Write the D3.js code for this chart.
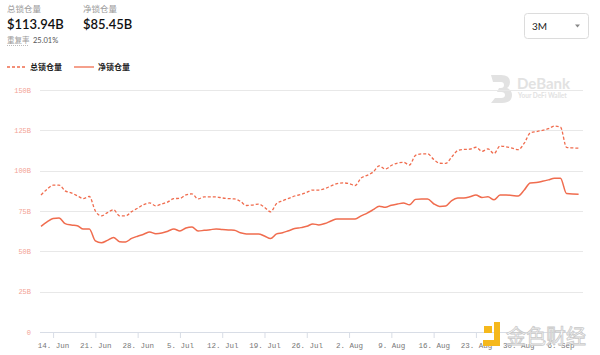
<!DOCTYPE html>
<html>
<head>
<meta charset="utf-8">
<script src="https://cdn.jsdelivr.net/npm/d3@7"></script>
<style>
  body { margin: 0; background: #fff; }
  svg { display: block; }
</style>
</head>
<body>
<svg id="chart" width="600" height="355"></svg>
<script>
// daily values, 12 Jun - 9 Sep (in B)
const startDay = "2020-06-12";
const totalLocked = [
  84.9, 88.5, 91.0, 91.1, 87.5, 86.2, 84.5, 82.7, 84.0, 75.0,
  72.0, 74.0, 75.8, 72.0, 72.0, 74.6, 76.7, 79.0, 80.0, 78.2,
  79.4, 80.6, 82.7, 82.8, 85.0, 85.6, 82.5, 83.7, 83.7, 83.7,
  83.1, 82.7, 82.5, 81.0, 78.4, 78.7, 79.3, 77.3, 74.5, 79.6,
  81.3, 82.8, 84.3, 85.2, 86.6, 88.0, 88.0, 88.9, 90.5, 92.0,
  92.4, 92.0, 90.8, 95.5, 97.1, 99.2, 103.0, 101.0, 103.2, 104.7,
  105.2, 103.5, 109.5, 110.4, 110.4, 107.0, 104.6, 104.5, 108.5, 112.5,
  113.2, 113.3, 114.5, 112.0, 113.5, 110.6, 115.3, 114.8, 114.0, 113.0,
  117.0, 123.4, 124.2, 125.0, 126.0, 127.7, 127.0, 114.5, 114.1, 113.94
];
const netLocked = [
  65.5, 68.2, 70.3, 70.6, 67.2, 66.3, 65.9, 63.8, 63.9, 56.5,
  55.3, 56.8, 58.6, 56.0, 55.8, 58.0, 59.4, 60.6, 62.0, 60.9,
  61.3, 62.5, 63.8, 62.6, 64.5, 65.1, 62.6, 63.0, 63.4, 63.9,
  63.5, 63.2, 63.1, 61.5, 60.8, 60.8, 60.8, 59.5, 57.9, 60.8,
  61.5, 62.8, 64.1, 64.7, 65.5, 67.0, 66.4, 67.2, 68.8, 70.1,
  70.1, 70.1, 70.1, 72.0, 73.7, 75.8, 78.0, 77.3, 78.6, 79.3,
  80.0, 78.8, 82.2, 82.5, 82.5, 79.5, 77.8, 78.1, 81.5, 83.0,
  83.1, 83.8, 84.9, 83.4, 83.8, 81.9, 84.9, 84.9, 84.6, 84.3,
  88.0, 92.4, 92.6, 93.4, 94.3, 95.3, 95.3, 85.8, 85.5, 85.45
];
const yTicks = [0, 25, 50, 75, 100, 125, 150];
const seriesNames = ["总锁仓量", "净锁仓量"];

const lineColor = "#f06c4e";
const svg = d3.select("#chart");

const t0 = d3.utcParse("%Y-%m-%d")(startDay);
const dates = totalLocked.map((v, i) => d3.utcDay.offset(t0, i));

const x = d3.scaleUtc()
  .domain([dates[0], dates[dates.length - 1]])
  .range([41, 578.6]);
const y = d3.scaleLinear().domain([0, 150]).range([332, 90]);

// header
svg.append("text").attr("x", 7).attr("y", 12).text("总锁仓量")
  .attr("font-family", "Noto Sans CJK SC").attr("font-size", 8.5).attr("fill", "#9a9a9a");
svg.append("text").attr("x", 7).attr("y", 28.5).text("$113.94B")
  .attr("font-family", "Lato").attr("font-size", 13).attr("font-weight", 600).attr("fill", "#111");
svg.append("text").attr("x", 83).attr("y", 12).text("净锁仓量")
  .attr("font-family", "Noto Sans CJK SC").attr("font-size", 8.5).attr("fill", "#9a9a9a");
svg.append("text").attr("x", 83).attr("y", 28.5).text("$85.45B")
  .attr("font-family", "Lato").attr("font-size", 13).attr("font-weight", 600).attr("fill", "#111");
svg.append("text").attr("x", 7).attr("y", 43).text("重复率")
  .attr("font-family", "Noto Sans CJK SC").attr("font-size", 7.5).attr("fill", "#9a9a9a");
svg.append("line").attr("x1", 7).attr("x2", 29).attr("y1", 45.5).attr("y2", 45.5)
  .attr("stroke", "#bbb").attr("stroke-dasharray", "1,1");
svg.append("text").attr("x", 33).attr("y", 43).text("25.01%")
  .attr("font-family", "Lato").attr("font-size", 7.5).attr("fill", "#555");

// range selector
svg.append("rect").attr("x", 524.5).attr("y", 13.5).attr("width", 64).attr("height", 25).attr("rx", 3)
  .attr("fill", "#fff").attr("stroke", "#dcdcdc");
svg.append("text").attr("x", 532).attr("y", 30).text("3M")
  .attr("font-family", "Lato").attr("font-size", 10).attr("fill", "#222");
svg.append("path").attr("d", "M575,24.5 L580,24.5 L577.5,27.5 Z").attr("fill", "#888");

// legend
const legend = svg.append("g").attr("font-family", "Noto Sans CJK SC").attr("font-size", 8).attr("font-weight", 700);
legend.append("line").attr("x1", 7).attr("x2", 25).attr("y1", 67).attr("y2", 67)
  .attr("stroke", lineColor).attr("stroke-width", 1.3).attr("stroke-dasharray", "3,2");
legend.append("text").attr("x", 30).attr("y", 70).text(seriesNames[0]).attr("fill", "#222");
legend.append("line").attr("x1", 74).attr("x2", 94).attr("y1", 67).attr("y2", 67)
  .attr("stroke", lineColor).attr("stroke-width", 1.3);
legend.append("text").attr("x", 98).attr("y", 70).text(seriesNames[1]).attr("fill", "#222");

// DeBank watermark
const wm = svg.append("g").attr("fill", "#e2e2e2");
wm.append("path").attr("d", "M491,75 h10 q9,0 9,7 q0,4 -3,6 q5,2 5,7 q0,8 -10,8 h-11 l4,-5 h6 q4,0 4,-3 q0,-3 -4,-3 h-4 l2,-4 h2 q3,0 3,-3 q0,-3 -3,-3 h-8 z");
wm.append("text").attr("x", 517).attr("y", 89).text("DeBank")
  .attr("font-family", "Lato").attr("font-size", 15).attr("font-weight", 700);
wm.append("text").attr("x", 518).attr("y", 98).text("Your DeFi Wallet")
  .attr("font-family", "Lato").attr("font-size", 6.5).attr("font-weight", 700);

// grid
svg.append("g").selectAll("line").data(yTicks).join("line")
  .attr("x1", 40).attr("x2", 583)
  .attr("y1", d => Math.round(y(d)) + 0.5).attr("y2", d => Math.round(y(d)) + 0.5)
  .attr("stroke", "#e8e8e8");

// y labels
svg.append("g").selectAll("text").data(yTicks).join("text")
  .attr("x", 31).attr("y", d => y(d) + 2.5)
  .attr("text-anchor", "end")
  .attr("font-family", "Liberation Mono").attr("font-size", 7)
  .attr("fill", "#f3a395")
  .text(d => d === 0 ? "0" : d + "B");

// x axis
const xAxis = d3.axisBottom(x)
  .ticks(d3.utcSunday.every(1))
  .tickFormat(d3.utcFormat("%-d. %b"))
  .tickSize(6).tickSizeOuter(0);
const gx = svg.append("g").attr("transform", "translate(0,332)").call(xAxis);
gx.select(".domain").attr("stroke", "#d8dde6").attr("d", "M40,0.5H583");
gx.selectAll(".tick line").attr("stroke", "#d8dde6");
gx.selectAll(".tick text").attr("font-family", "Liberation Mono").attr("font-size", 7.5)
  .attr("fill", "#777").attr("dy", "0.9em");

// lines
const line = d3.line().x((d, i) => x(dates[i])).y(d => y(d)).curve(d3.curveMonotoneX);
svg.append("path").datum(totalLocked).attr("d", line)
  .attr("fill", "none").attr("stroke", lineColor).attr("stroke-width", 1.3)
  .attr("stroke-dasharray", "3,2");
svg.append("path").datum(netLocked).attr("d", line)
  .attr("fill", "none").attr("stroke", lineColor).attr("stroke-width", 1.5);

// bottom-right watermark (sits over the last axis labels, as in the source)
const jw = svg.append("g");
jw.append("rect").attr("x", 484).attr("y", 326).attr("width", 8).attr("height", 7).attr("fill", "#f5b81c");
jw.append("path").attr("d", "M494,322 h6 v24 h-17 v-6 h11 z").attr("fill", "#f5b81c");
jw.append("text").attr("x", 506).attr("y", 344).text("金色财经")
  .attr("font-family", "Noto Sans CJK SC").attr("font-size", 20)
  .attr("fill", "#fff").attr("fill-opacity", 0.85).attr("stroke", "#c8c8c8").attr("stroke-width", 0.8);
</script>
</body>
</html>
